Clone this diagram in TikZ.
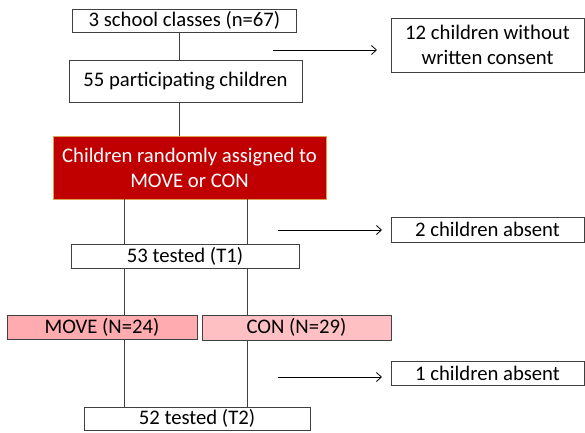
\documentclass[tikz,border=0pt]{standalone}
\usepackage{fontspec}
\setmainfont{Carlito}
\usetikzlibrary{arrows.meta}
\definecolor{darkred}{HTML}{C00000}
\definecolor{goldline}{HTML}{D9A24A}
\definecolor{movepink}{HTML}{FFABAF}
\definecolor{conpink}{HTML}{FFC0C3}
\definecolor{boxline}{HTML}{404040}
\begin{document}
\begin{tikzpicture}[x=1pt,y=1pt,
  flowbox/.style={draw=boxline,line width=0.9pt,fill=white,inner sep=0pt,align=center,font=\fontsize{20.7}{25}\selectfont,text=black},
  conn/.style={draw=boxline,line width=0.9pt},
  excl/.style={draw=black,line width=0.8pt,-{Straight Barb[length=5pt,width=9pt]}}]
\useasboundingbox (0,0) rectangle (585,-432);
\node[flowbox,minimum width=224pt,minimum height=23pt] (classes) at (184.5,-20.5) {3 school classes (n=67)};
\node[flowbox,minimum width=233pt,minimum height=42pt] (part) at (185.5,-81) {55 participating children};
\node[flowbox,minimum width=193pt,minimum height=54pt] (consent) at (487.5,-45) {12 children without\\written consent};
\node[flowbox,fill=darkred,draw=goldline,text=white,minimum width=273pt,minimum height=63pt] (rand) at (189.5,-167.5) {Children randomly assigned to\\MOVE or CON};
\node[flowbox,minimum width=228pt,minimum height=24pt] (tone) at (185,-256) {53 tested (T1)};
\node[flowbox,minimum width=193pt,minimum height=25pt] (absA) at (487.5,-229.5) {2 children absent};
\node[flowbox,fill=movepink,minimum width=190pt,minimum height=24pt] (move) at (102,-327) {MOVE (N=24)};
\node[flowbox,fill=conpink,minimum width=189pt,minimum height=25pt] (con) at (296.5,-327.5) {CON (N=29)};
\node[flowbox,minimum width=226pt,minimum height=23pt] (ttwo) at (197,-418.5) {52 tested (T2)};
\node[flowbox,minimum width=193pt,minimum height=24pt] (absB) at (487.5,-373) {1 children absent};

\draw[conn] (classes.south -| 179,0) -- (part.north -| 179,0);
\draw[conn] (part.south -| 179,0) -- (rand.north -| 179,0);
\draw[conn] (rand.south -| 124,0) -- (tone.north -| 124,0);
\draw[conn] (rand.south -| 247,0) -- (tone.north -| 247,0);
\draw[conn] (tone.south -| 124,0) -- (move.north -| 124,0);
\draw[conn] (tone.south -| 247,0) -- (con.north -| 247,0);
\draw[conn] (move.south -| 124,0) -- (ttwo.north -| 124,0);
\draw[conn] (con.south -| 247,0) -- (ttwo.north -| 247,0);

\coordinate (s1) at (273,-50);
\coordinate (e1) at (377,-50);
\coordinate (s2) at (278,-230);
\coordinate (e2) at (382,-230);
\coordinate (s3) at (278,-377);
\coordinate (e3) at (382,-377);
\draw[excl] (s1) -- (e1);
\draw[excl] (s2) -- (e2);
\draw[excl] (s3) -- (e3);
\end{tikzpicture}
\end{document}
